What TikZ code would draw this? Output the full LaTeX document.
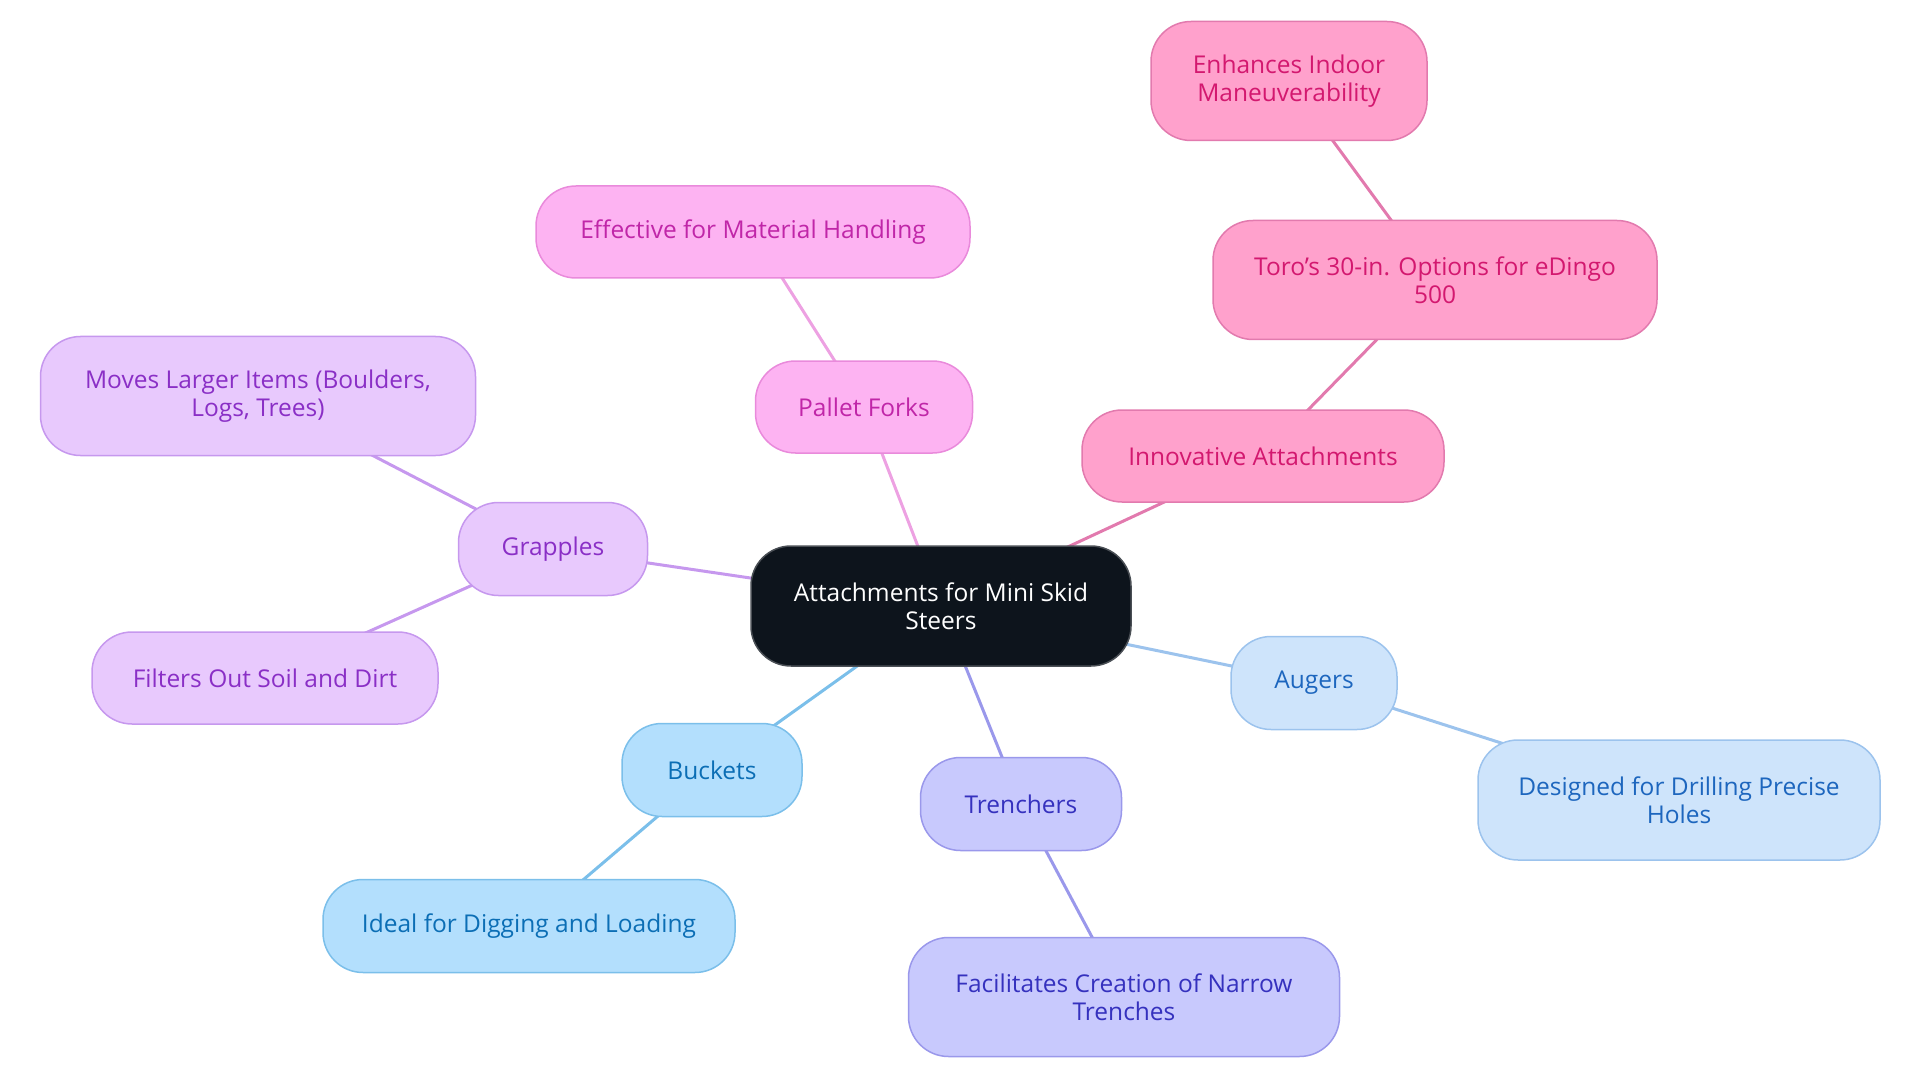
\documentclass[tikz,border=0pt]{standalone}
\usepackage{fontspec}
\setmainfont{Open Sans}
\usepackage{tikz}
\usetikzlibrary{positioning,backgrounds}

\definecolor{rootfill}{HTML}{0D141C}
\definecolor{rootedge}{HTML}{4A4F55}
\definecolor{forkfill}{HTML}{FDB3F2}
\definecolor{forktext}{HTML}{C026A8}
\definecolor{forkedge}{HTML}{E98ADB}
\definecolor{innofill}{HTML}{FFA1CC}
\definecolor{innotext}{HTML}{D3186F}
\definecolor{innoedge}{HTML}{E27AAE}
\definecolor{grapfill}{HTML}{E8C9FD}
\definecolor{graptext}{HTML}{8A2FC6}
\definecolor{grapedge}{HTML}{C698EE}
\definecolor{buckfill}{HTML}{B3DFFD}
\definecolor{bucktext}{HTML}{0B6EB5}
\definecolor{buckedge}{HTML}{7BBFEA}
\definecolor{trenfill}{HTML}{C8C9FD}
\definecolor{trentext}{HTML}{3531BE}
\definecolor{trenedge}{HTML}{9A98EB}
\definecolor{augefill}{HTML}{CEE4FB}
\definecolor{augetext}{HTML}{1D66BE}
\definecolor{augeedge}{HTML}{9CC3ED}

\tikzset{
  box/.style={draw, rounded corners=40pt, inner sep=0pt, align=center,
    line width=1.5pt, font=\fontsize{24.5}{28}\selectfont},
  rootbox/.style={box, fill=rootfill, draw=rootedge, text=white},
  forkbox/.style={box, fill=forkfill, draw=forkedge, text=forktext},
  innobox/.style={box, fill=innofill, draw=innoedge, text=innotext},
  grapbox/.style={box, fill=grapfill, draw=grapedge, text=graptext},
  buckbox/.style={box, fill=buckfill, draw=buckedge, text=bucktext},
  trenbox/.style={box, fill=trenfill, draw=trenedge, text=trentext},
  augebox/.style={box, fill=augefill, draw=augeedge, text=augetext},
  link/.style={line width=3pt}
}

\begin{document}
\begin{tikzpicture}[x=1pt, y=-1pt]
            \useasboundingbox (0,0) rectangle (1920,1083);

            \draw (941,606) node[rootbox, minimum width=380pt, minimum height=120pt]   (root) {Attachments for Mini Skid\\Steers};
            \draw (864,407) node[forkbox, minimum width=217pt, minimum height=92pt]    (forks) {Pallet Forks};
            \draw (753,232) node[forkbox, minimum width=434pt, minimum height=92pt]    (handling) {Effective for Material Handling};
            \draw (1263,456) node[innobox, minimum width=362pt, minimum height=92pt]   (innov) {Innovative Attachments};
            \draw (1435,280) node[innobox, minimum width=444pt, minimum height=119pt]  (toro) {Toro's 30-in. Options for eDingo\\500};
            \draw (1289,81) node[innobox, minimum width=276pt, minimum height=119pt]   (indoor) {Enhances Indoor\\Maneuverability};
            \draw (553,549) node[grapbox, minimum width=189pt, minimum height=93pt]    (grapples) {Grapples};
            \draw (258,396) node[grapbox, minimum width=435pt, minimum height=119pt]   (larger) {Moves Larger Items (Boulders,\\Logs, Trees)};
            \draw (265,678) node[grapbox, minimum width=346pt, minimum height=92pt]    (soil) {Filters Out Soil and Dirt};
            \draw (712,770) node[buckbox, minimum width=180pt, minimum height=93pt]    (buckets) {Buckets};
            \draw (529,926) node[buckbox, minimum width=412pt, minimum height=93pt]    (digging) {Ideal for Digging and Loading};
            \draw (1021,804) node[trenbox, minimum width=201pt, minimum height=93pt]   (trenchers) {Trenchers};
            \draw (1124,997) node[trenbox, minimum width=431pt, minimum height=119pt]  (narrow) {Facilitates Creation of Narrow\\Trenches};
            \draw (1314,683) node[augebox, minimum width=166pt, minimum height=93pt]   (augers) {Augers};
            \draw (1679,800) node[augebox, minimum width=402pt, minimum height=120pt]  (holes) {Designed for Drilling Precise\\Holes};

            % links run centre to centre, behind the boxes
            \begin{pgfonlayer}{background}
            \draw[link, forkedge!80] (root.center) -- (forks.center);
            \draw[link, forkedge!80] (forks.center) -- (handling.center);
            \draw[link, innoedge] (root.center) -- (innov.center);
            \draw[link, innoedge] (innov.center) -- (toro.center);
            \draw[link, innoedge] (toro.center) -- (indoor.center);
            \draw[link, grapedge] (root.center) -- (grapples.center);
            \draw[link, grapedge] (grapples.center) -- (larger.center);
            \draw[link, grapedge] (grapples.center) -- (soil.center);
            \draw[link, buckedge] (root.center) -- (buckets.center);
            \draw[link, buckedge] (buckets.center) -- (digging.center);
            \draw[link, trenedge] (root.center) -- (trenchers.center);
            \draw[link, trenedge] (trenchers.center) -- (narrow.center);
            \draw[link, augeedge] (root.center) -- (augers.center);
            \draw[link, augeedge] (augers.center) -- (holes.center);
            \end{pgfonlayer}

\end{tikzpicture}
\end{document}
